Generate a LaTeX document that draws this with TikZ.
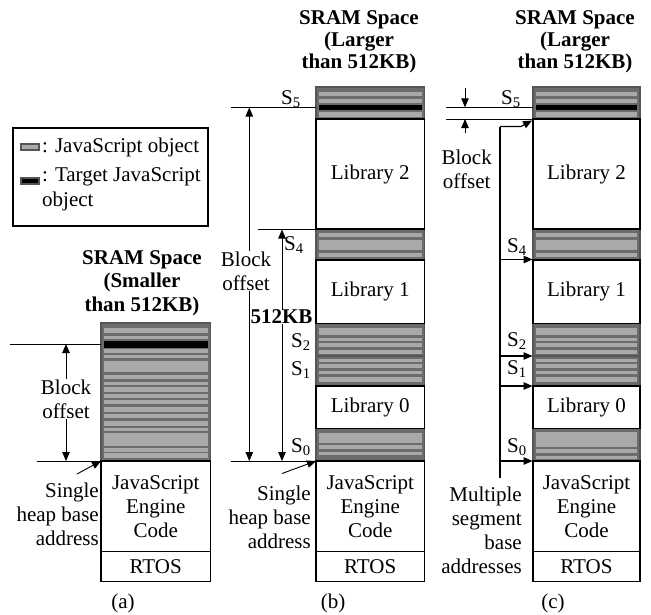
\documentclass[tikz,border=0pt]{standalone}
\usepackage{fontspec}
\setmainfont{Liberation Serif}
\usetikzlibrary{arrows.meta}
\definecolor{segdark}{HTML}{555555}
\definecolor{segmid}{HTML}{6C6C6C}
\definecolor{seglight}{HTML}{A9A9A9}

% a white memory region with centred text
\newcommand\memcell[6]{%
  \node[membox, minimum width={#3-#2}, minimum height={#5-#4}] (#1)
    at ({(#2+#3)/2},{(#4+#5)/2}) {#6};}
% a striped heap segment: left, right, top, bottom, bars (top/bottom/colour)
\newcommand\heapseg[5]{%
  \filldraw[fill=segmid, draw=segdark, line width=1.6pt] (#1,#3) rectangle (#2,#4);
  \foreach \ya/\yb/\bc in {#5}{\fill[\bc] ({#1+2.8},\ya) rectangle ({#2-2.8},\yb);}}

\begin{document}
\begin{tikzpicture}[x=1pt,y=-1pt,
  txt/.style={font=\fontsize{21}{24}\selectfont, inner sep=0pt},
  head/.style={font=\fontsize{21}{22}\selectfont\bfseries, align=center, inner sep=0pt},
  membox/.style={draw=black, line width=1.5pt, fill=white,
    font=\fontsize{21}{24}\selectfont, align=center, inner sep=0pt},
  guide/.style={line width=0.9pt},
  tip/.tip={Triangle[length=9pt,width=7.5pt]},
  arr/.style={line width=0.9pt, -tip},
  dblarr/.style={line width=0.9pt, tip-tip},
  gap/.style={txt, fill=white, inner sep=1pt, align=center},
  slabel/.style={txt}]
\useasboundingbox (0,0) rectangle (651,614);

% ---------------- legend ----------------
\node[draw, line width=1.3pt, minimum width=195pt, minimum height=98pt, inner sep=0pt]
  (legend) at (110.5,177) {};
\filldraw[fill=seglight, draw=segdark, line width=1.2pt] (21,144) rectangle (39,150);
\filldraw[fill=black, draw=segdark, line width=1.2pt] (21,178) rectangle (39,184);
\node[txt, anchor=west] (lg1) at (42,147) {: JavaScript object};
\node[txt, anchor=north west, align=left, font=\fontsize{21}{25.5}\selectfont]
  (lg2) at (42,167) {: Target JavaScript\\object};

% ---------------- column (a) ----------------
\node[head, font=\fontsize{21}{23.5}\selectfont\bfseries] (a-head) at (142,283)
  {SRAM Space\\(Smaller\\than 512KB)};
\heapseg{101}{210.5}{323}{461}{328/333.3/seglight, 335.7/339/seglight,
  341/347.7/black, 349/353.3/seglight, 355/358.3/seglight, 360.7/372.3/seglight,
  375/379.3/seglight, 381.7/385/seglight, 387.3/391.7/seglight, 394/398.3/seglight,
  400.3/404.3/seglight, 407/411.7/seglight, 413.7/418.3/seglight, 421/425.7/seglight,
  427.7/431/seglight, 433.3/445.7/seglight, 448.3/451.7/seglight, 453.3/457.7/seglight}
\memcell{a-js}{101}{210.5}{461}{551.5}{JavaScript\\Engine\\Code}
\memcell{a-rtos}{101}{210.5}{551.5}{581.5}{RTOS}
\node[txt] (a-cap) at (123,603) {(a)};

\coordinate (a-tgt) at (101,344);
\coordinate (a-tgtL) at (10,344);
\coordinate (a-base) at (101,461);
\coordinate (a-baseL) at (36.5,461);
\coordinate (a-up) at (66,344);
\coordinate (a-dn) at (66,461);
\coordinate (a-from) at (77,474);
\draw[guide] (a-tgtL) -- (a-tgt);
\draw[guide] (a-baseL) -- (a-base);
\draw[dblarr] (a-up) -- (a-dn);
\node[gap] (a-off) at (66,399) {Block\\offset};
\node[txt, align=right, anchor=east] (a-heap) at (99,514) {Single\\heap base\\address};
\draw[arr] (a-from) -- (a-base);

% ---------------- column (b) ----------------
\node[head] (b-head) at (359,42) {SRAM Space\\(Larger\\than 512KB)};
\heapseg{316}{424.5}{87}{119}{91.5/96/seglight, 98.5/103/seglight, 105/110/black, 112/117/seglight}
\heapseg{316}{424.5}{229}{260}{233/237/seglight, 240/250/seglight, 252.5/256.5/seglight}
\heapseg{316}{424.5}{323.5}{356}{327.5/335/seglight, 337.5/340.5/seglight, 343/347/seglight, 349.5/353.5/seglight}
\heapseg{316}{424.5}{356}{386}{358.5/361.5/seglight, 363.5/368/seglight, 370.5/374/seglight, 376.5/382/seglight}
\heapseg{316}{424.5}{428.5}{461}{432.5/442.5/seglight, 445/449/seglight, 451.5/455/seglight}
\memcell{b-lib2}{316}{424.5}{119}{229}{Library 2}
\memcell{b-lib1}{316}{424.5}{260}{323.5}{Library 1}
\memcell{b-lib0}{316}{424.5}{386}{428.5}{Library 0}
\memcell{b-js}{316}{424.5}{461}{551.5}{JavaScript\\Engine\\Code}
\memcell{b-rtos}{316}{424.5}{551.5}{581.5}{RTOS}
\node[txt] (b-cap) at (333,603) {(b)};

\node[slabel] (b-s5) at (291,99) {S\textsubscript{5}};
\node[slabel] (b-s4) at (294,245) {S\textsubscript{4}};
\node[slabel] (b-s2) at (301,342) {S\textsubscript{2}};
\node[slabel] (b-s1) at (301,370) {S\textsubscript{1}};
\node[slabel] (b-s0) at (301,447) {S\textsubscript{0}};

\coordinate (b-tgt) at (316,107.5);
\coordinate (b-tgtL) at (231,107.5);
\coordinate (b-s4e) at (316,229.5);
\coordinate (b-s4L) at (258,229.5);
\coordinate (b-base) at (316,461);
\coordinate (b-baseL) at (231,461);
\coordinate (b-offT) at (249.3,107.5);
\coordinate (b-offB) at (249.3,461);
\coordinate (b-kbT) at (282,229.5);
\coordinate (b-kbB) at (282,461);
\coordinate (b-from) at (282,473.5);
\draw[guide] (b-tgtL) -- (b-tgt);
\draw[guide] (b-s4L) -- (b-s4e);
\draw[guide] (b-baseL) -- (b-base);
\draw[dblarr] (b-offT) -- (b-offB);
\draw[dblarr] (b-kbT) -- (b-kbB);
\node[gap] (b-off) at (246,271) {Block\\offset};
\node[gap, inner sep=0.3pt, font=\fontsize{21}{24}\selectfont\bfseries] (b-kb) at (281.5,317) {512KB};
\node[txt, align=right, anchor=east] (b-heap) at (311,517) {Single\\heap base\\address};
\draw[arr] (b-from) -- (b-base);

% ---------------- column (c) ----------------
\node[head] (c-head) at (575,42) {SRAM Space\\(Larger\\than 512KB)};
\heapseg{533}{640}{87}{119}{91.5/96/seglight, 98.5/103/seglight, 105/110/black, 112/117/seglight}
\heapseg{533}{640}{229}{260}{233/237/seglight, 240/250/seglight, 252.5/256.5/seglight}
\heapseg{533}{640}{323.5}{356}{327.5/335/seglight, 337.5/340.5/seglight, 343/347/seglight, 349.5/353.5/seglight}
\heapseg{533}{640}{356}{386}{358.5/361.5/seglight, 363.5/368/seglight, 370.5/374/seglight, 376.5/382/seglight}
\heapseg{533}{640}{428.5}{461}{432/446.5/seglight, 449.3/453.3/seglight, 456/459/seglight}
\memcell{c-lib2}{533}{640}{119}{229}{Library 2}
\memcell{c-lib1}{533}{640}{260}{323.5}{Library 1}
\memcell{c-lib0}{533}{640}{386}{428.5}{Library 0}
\memcell{c-js}{533}{640}{461}{551.5}{JavaScript\\Engine\\Code}
\memcell{c-rtos}{533}{640}{551.5}{581.5}{RTOS}
\node[txt] (c-cap) at (553,603) {(c)};

\node[slabel] (c-s5) at (511,99) {S\textsubscript{5}};
\node[slabel] (c-s4) at (517,247) {S\textsubscript{4}};
\node[slabel] (c-s2) at (517,341) {S\textsubscript{2}};
\node[slabel] (c-s1) at (517,369) {S\textsubscript{1}};
\node[slabel] (c-s0) at (517,447) {S\textsubscript{0}};

\coordinate (c-tgt) at (533,107.3);
\coordinate (c-tgtL) at (446,107.3);
\coordinate (c-s5b) at (533,119);
\coordinate (c-s5bL) at (446,119);
\coordinate (c-dnA) at (465,88);
\coordinate (c-dnB) at (465,107.3);
\coordinate (c-upA) at (465,133);
\coordinate (c-upB) at (465,119);
\draw[guide] (c-tgtL) -- (c-tgt);
\draw[guide] (c-s5bL) -- (c-s5b);
\draw[arr] (c-dnA) -- (c-dnB);
\draw[arr] (c-upA) -- (c-upB);
\node[txt, align=center] (c-off) at (466.7,169) {Block\\offset};

% segment base address bus
\coordinate (c-busT) at (500,126.5);
\coordinate (c-busB) at (500,478);
\coordinate (c-busK) at (521,126.5);
\coordinate (c-to5) at (532,120.5);
\draw[line width=1.3pt] (c-busT) -- (c-busB);
\draw[arr, line width=1.1pt] (c-busT) -- (c-busK) -- (c-to5);
\foreach \yy/\nm in {259.5/4, 356/2, 386/1, 461/0}{
  \coordinate (c-bus\nm) at (500,\yy);
  \coordinate (c-to\nm) at (532.5,\yy);
  \draw[arr, line width=1.1pt] (c-bus\nm) -- (c-to\nm);
}
\node[txt, align=right, anchor=east] (c-multi) at (522,530.5)
  {Multiple\\segment\\base\\addresses};
\end{tikzpicture}
\end{document}
